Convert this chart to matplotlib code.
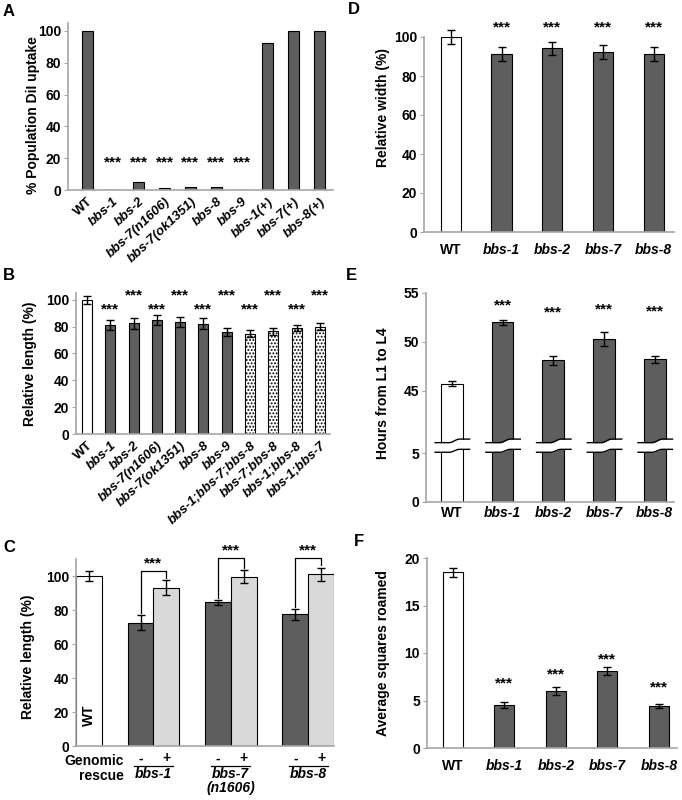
import numpy as np
import matplotlib
matplotlib.use('Agg')
import matplotlib.pyplot as plt
from matplotlib.transforms import blended_transform_factory

plt.rcParams['font.family'] = ['Liberation Sans', 'DejaVu Sans']
plt.rcParams['font.weight'] = 'bold'
plt.rcParams['axes.labelweight'] = 'bold'
plt.rcParams['hatch.linewidth'] = 0.9

# ---------------- data ----------------
A_cats = ['WT', 'bbs-1', 'bbs-2', 'bbs-7(n1606)', 'bbs-7(ok1351)', 'bbs-8', 'bbs-9',
          'bbs-1(+)', 'bbs-7(+)', 'bbs-8(+)']
A_vals = [100, 0, 5, 1.5, 2, 2, 0, 92.5, 100, 100]
A_sig = [False, True, True, True, True, True, True, False, False, False]
A_star_y = 17

B_cats = ['WT', 'bbs-1', 'bbs-2', 'bbs-7(n1606)', 'bbs-7(ok1351)', 'bbs-8', 'bbs-9',
          'bbs-1;bbs-7;bbs-8', 'bbs-7;bbs-8', 'bbs-1;bbs-8', 'bbs-1;bbs-7']
B_vals = [100, 80.9, 82.4, 85.1, 83.6, 82.1, 75.8, 74.7, 76.4, 79.0, 79.7]
B_err = [3.1, 3.8, 4.0, 3.6, 3.7, 4.0, 3.0, 2.7, 2.6, 2.0, 2.6]
B_kind = ['wt', 'single', 'single', 'single', 'single', 'single', 'single',
          'double', 'double', 'double', 'double']
B_star_y = [None, 92.5, 103, 92.5, 103, 92.5, 103, 92.5, 103, 92.5, 103]

C_groups = ['bbs-1', 'bbs-7', 'bbs-8']
C_sub = ['', '(n1606)', '']
C_wt, C_wt_err = 100, 3.1
C_minus = [72.5, 84.5, 77.5]
C_minus_err = [4.5, 1.5, 3.3]
C_plus = [93.1, 99.6, 101.0]
C_plus_err = [4.5, 3.9, 3.9]
C_bracket = [103, 110.5, 110.5]

DEF_cats = ['WT', 'bbs-1', 'bbs-2', 'bbs-7', 'bbs-8']
D_vals = [100, 91.3, 94.2, 92.2, 91.3]
D_err = [3.7, 3.7, 3.4, 3.7, 3.7]
D_star_y = 105

E_vals = [45.7, 52.0, 48.1, 50.3, 48.2]
E_err = [0.27, 0.25, 0.5, 0.7, 0.4]
E_star_y = [None, 53.7, 53.0, 53.3, 53.1]

F_vals = [18.5, 4.55, 6.0, 8.1, 4.45]
F_err = [0.45, 0.33, 0.42, 0.46, 0.22]
F_star_y = [None, 6.8, 7.7, 9.3, 6.4]

DARK = '#5e5e5e'
LIGHT = '#d9d9d9'
SPINE = '#a6a6a6'
FS = 10
XFS = 9.5
STAR_FS = 11

fig = plt.figure(figsize=(6.82, 8), dpi=100)


def px_axes(l, r, b, t):
    return fig.add_axes([l / 682, 1 - b / 800, (r - l) / 682, (b - t) / 800])


def style(ax):
    for s in ['top', 'right']:
        ax.spines[s].set_visible(False)
    for s in ['left', 'bottom']:
        ax.spines[s].set_color(SPINE)
        ax.spines[s].set_linewidth(1.2)
    ax.tick_params(axis='y', length=3, color=SPINE, labelsize=FS, pad=2)
    ax.tick_params(axis='x', length=0, labelsize=FS)


def italic_labels(ax):
    for lab in ax.get_xticklabels():
        if lab.get_text() != 'WT':
            lab.set_fontstyle('italic')


ebkw = dict(ecolor='black', elinewidth=1, capsize=3, capthick=1)

# ---------------- A ----------------
axA = px_axes(68, 333, 190, 23)
style(axA)
xA = np.arange(len(A_cats))
axA.bar(xA, A_vals, width=0.43, color=DARK, edgecolor='black', linewidth=0.8)
for i, s in enumerate(A_sig):
    if s:
        axA.text(xA[i], A_star_y, '***', ha='center', va='center', fontsize=STAR_FS)
axA.set_xticks(xA, A_cats, rotation=43, ha='right', rotation_mode='anchor', fontsize=XFS)
italic_labels(axA)
axA.tick_params(axis='x', pad=4)
axA.set_yticks([0, 20, 40, 60, 80, 100])
axA.set_xlim(-0.74, 9.53)
axA.set_ylim(0, 105)
axA.set_ylabel('% Population DiI uptake', fontsize=FS)
axA.yaxis.set_label_coords(-0.106, 0.45)

# ---------------- B ----------------
axB = px_axes(76, 330, 434, 293)
style(axB)
xB = np.arange(len(B_cats))
for i, k in enumerate(B_kind):
    if k == 'wt':
        axB.bar(xB[i], B_vals[i], width=0.43, color='white', edgecolor='black', linewidth=0.8)
    elif k == 'single':
        axB.bar(xB[i], B_vals[i], width=0.43, color=DARK, edgecolor='black', linewidth=0.8)
    else:
        axB.bar(xB[i], B_vals[i], width=0.43, color='white', edgecolor='black',
                linewidth=0.8, hatch='.....')
axB.errorbar(xB, B_vals, yerr=B_err, fmt='none', **ebkw)
for i, y in enumerate(B_star_y):
    if y is not None:
        axB.text(xB[i], y, '***', ha='center', va='center', fontsize=STAR_FS)
axB.set_xticks(xB, B_cats, rotation=43, ha='right', rotation_mode='anchor', fontsize=XFS)
italic_labels(axB)
axB.tick_params(axis='x', pad=4)
axB.set_yticks([0, 20, 40, 60, 80, 100])
axB.set_xlim(-0.47, 10.43)
axB.set_ylim(0, 105)
axB.set_ylabel('Relative length (%)', fontsize=FS)
axB.yaxis.set_label_coords(-0.154, 0.5)

# ---------------- C ----------------
axC = px_axes(76, 334, 746, 559)
style(axC)
xwt = 0.5
xm = np.array([2.5, 5.5, 8.5])
xp = xm + 1
axC.bar(xwt, C_wt, width=1, color='white', edgecolor='black', linewidth=0.8)
axC.errorbar([xwt], [C_wt], yerr=[C_wt_err], fmt='none', **ebkw)
axC.bar(xm, C_minus, width=1, color=DARK, edgecolor='black', linewidth=0.8)
axC.bar(xp, C_plus, width=1, color=LIGHT, edgecolor='black', linewidth=0.8)
axC.errorbar(xm, C_minus, yerr=C_minus_err, fmt='none', **ebkw)
axC.errorbar(xp, C_plus, yerr=C_plus_err, fmt='none', **ebkw)
axC.text(xwt, 18, 'WT', rotation=90, ha='center', va='center', fontsize=FS)
for i in range(3):
    lb = C_minus[i] + C_minus_err[i] + 1.0
    rb = C_plus[i] + C_plus_err[i] + 1.5
    top = C_bracket[i]
    axC.plot([xm[i], xm[i], xp[i], xp[i]], [lb, top, top, rb], color='black', lw=0.9,
             clip_on=False)
    axC.text((xm[i] + xp[i]) / 2, top + 0.3, '***', ha='center', va='bottom', fontsize=STAR_FS)
tC = blended_transform_factory(axC.transData, axC.transAxes)
axC.text(1.86, -0.078, 'Genomic', transform=tC, ha='right', va='center', fontsize=FS)
axC.text(1.86, -0.158, 'rescue', transform=tC, ha='right', va='center', fontsize=FS)
for i in range(3):
    axC.text(xm[i], -0.066, '-', transform=tC, ha='center', va='center', fontsize=FS)
    axC.text(xp[i], -0.066, '+', transform=tC, ha='center', va='center', fontsize=FS)
    c = (xm[i] + xp[i]) / 2
    axC.plot([c - 0.75, c + 0.75], [-0.107, -0.107], transform=tC, color='black', lw=0.9,
             clip_on=False)
    axC.text(c, -0.150, C_groups[i], transform=tC, ha='center', va='center', fontsize=FS,
             fontstyle='italic')
    if C_sub[i]:
        axC.text(c, -0.222, C_sub[i], transform=tC, ha='center', va='center', fontsize=FS,
                 fontstyle='italic')
axC.set_xticks([])
axC.set_yticks([0, 20, 40, 60, 80, 100])
axC.set_xlim(0, 10)
axC.set_ylim(0, 110)
axC.set_ylabel('Relative length (%)', fontsize=FS)
axC.yaxis.set_label_coords(-0.159, 0.476)

# ---------------- D ----------------
axD = px_axes(424, 674, 232, 37)
style(axD)
xD = np.arange(len(DEF_cats))
colsD = ['white'] + [DARK] * 4
axD.bar(xD, D_vals, width=0.4, color=colsD, edgecolor='black', linewidth=0.8)
axD.errorbar(xD, D_vals, yerr=D_err, fmt='none', clip_on=False, **ebkw)
for i in range(1, 5):
    axD.text(xD[i], D_star_y, '***', ha='center', va='center', fontsize=STAR_FS)
axD.set_xticks(xD, DEF_cats)
italic_labels(axD)
axD.tick_params(axis='x', pad=8)
axD.set_yticks([0, 20, 40, 60, 80, 100])
axD.set_xlim(-0.53, 4.4)
axD.set_ylim(0, 100)
axD.set_ylabel('Relative width (%)', fontsize=FS)
axD.yaxis.set_label_coords(-0.136, 0.64)

# ---------------- E (broken axis) ----------------
axE = px_axes(426, 674, 502, 293)
style(axE)
_v = [-100, 6, 40, 1000]
_y = [-100, 6, 6.4, 966.4]


def fwd(v):
    return np.interp(v, _v, _y)


def inv(y):
    return np.interp(y, _y, _v)


axE.set_yscale('function', functions=(fwd, inv))
xE = np.arange(len(DEF_cats))
axE.bar(xE, E_vals, width=0.43, color=colsD, edgecolor='black', linewidth=0.8)
axE.errorbar(xE, E_vals, yerr=E_err, fmt='none', **ebkw)
for i, y in enumerate(E_star_y):
    if y is not None:
        axE.text(xE[i], y, '***', ha='center', va='center', fontsize=STAR_FS)
tE = blended_transform_factory(axE.transData, axE.transAxes)
t = np.linspace(-0.33, 0.35, 80)
u = np.clip((t + 0.05) / 0.2, 0, 1)
s = u * u * (3 - 2 * u)
for i in range(len(xE)):
    top = 0.284 + 0.017 * s
    bot = 0.238 + 0.014 * s
    axE.fill_between(xE[i] + t, bot, top, transform=tE, color='white', zorder=3, lw=0)
    axE.plot(xE[i] + t, top, transform=tE, color='black', lw=1, zorder=4)
    axE.plot(xE[i] + t, bot, transform=tE, color='black', lw=1, zorder=4)
axE.set_xticks(xE, DEF_cats)
italic_labels(axE)
axE.tick_params(axis='x', pad=3)
axE.set_yticks([0, 5, 45, 50, 55])
axE.yaxis.set_minor_locator(matplotlib.ticker.NullLocator())
axE.set_xlim(-0.51, 4.38)
axE.set_ylim(0, 55)
axE.set_ylabel('Hours from L1 to L4', fontsize=FS)
axE.yaxis.set_label_coords(-0.145, 0.52)

# ---------------- F ----------------
axF = px_axes(427, 677, 748, 558)
style(axF)
xF = np.arange(len(DEF_cats))
axF.bar(xF, F_vals, width=0.39, color=colsD, edgecolor='black', linewidth=0.8)
axF.errorbar(xF, F_vals, yerr=F_err, fmt='none', **ebkw)
for i, y in enumerate(F_star_y):
    if y is not None:
        axF.text(xF[i], y, '***', ha='center', va='center', fontsize=STAR_FS)
axF.set_xticks(xF, DEF_cats)
italic_labels(axF)
axF.tick_params(axis='x', pad=8)
axF.set_yticks([0, 5, 10, 15, 20])
axF.set_xlim(-0.5, 4.35)
axF.set_ylim(0, 20)
axF.set_ylabel('Average squares roamed', fontsize=FS)
axF.yaxis.set_label_coords(-0.148, 0.5)

# ---------------- panel letters ----------------
for lab, x, y in [('A', 3, 12), ('B', 3, 275), ('C', 3, 548),
                  ('D', 348, 10), ('E', 346, 276), ('F', 354, 542)]:
    fig.text(x / 682, 1 - y / 800, lab, ha='left', va='center', fontsize=12)

fig.savefig('out.png', dpi=100)
